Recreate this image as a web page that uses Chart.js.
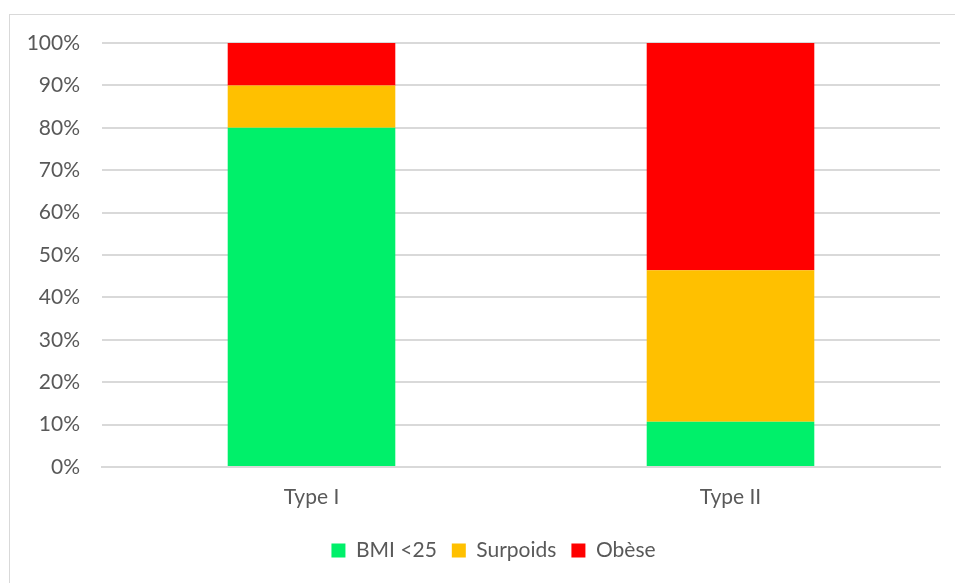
<!DOCTYPE html>
<html>
<head>
<meta charset="utf-8">
<script src="https://cdn.jsdelivr.net/npm/chart.js@4"></script>
<style>
  html, body { margin: 0; padding: 0; background: #fff; overflow: hidden; }
  #frame {
    position: absolute; left: 9px; top: 14px; width: 1000px; height: 600px;
    border: 1px solid #d9d9d9;
  }
  #wrap { position: absolute; left: 0; top: 0; width: 987px; height: 583px; }
</style>
</head>
<body>
<div id="frame"></div>
<div id="wrap"><canvas id="chart"></canvas></div>
<script>
// categories and series (percent of each type)
const categories = ['Type I', 'Type II'];
const bmiUnder25 = [80, 10.7];
const surpoids = [10, 35.7];
const obese = [10, 53.6];

const textColor = '#595959';
const gridColor = '#d9d9d9';
const fontFamily = 'Lato, "Open Sans", sans-serif';
const fontSize = 21;

// legend is centred on the whole frame, not on the plot
const legendShift = {
  id: 'legendShift',
  afterLayout(chart) {
    chart.legend.left += 23.5;
    chart.legend.right += 23.5;
  }
};

new Chart(document.getElementById('chart'), {
  type: 'bar',
  data: {
    labels: categories,
    datasets: [
      { label: 'BMI <25', data: bmiUnder25, backgroundColor: '#00f06a' },
      { label: 'Surpoids', data: surpoids, backgroundColor: '#ffc000' },
      { label: 'Obèse', data: obese, backgroundColor: '#ff0000' }
    ]
  },
  plugins: [legendShift],
  options: {
    responsive: true,
    maintainAspectRatio: false,
    animation: false,
    barPercentage: 0.4,
    categoryPercentage: 1,
    layout: { padding: { left: 0, right: 47, top: 43, bottom: 12 } },
    plugins: {
      tooltip: { enabled: false },
      legend: {
        position: 'bottom',
        labels: {
          color: textColor,
          font: { family: fontFamily, size: fontSize, lineHeight: 0.8 },
          boxWidth: 14,
          boxHeight: 14,
          padding: 15
        }
      }
    },
    scales: {
      x: {
        stacked: true,
        afterFit: (scale) => { scale.height -= 3; },
        grid: { display: false, drawTicks: false },
        border: { color: gridColor, width: 2 },
        ticks: {
          color: textColor,
          font: { family: fontFamily, size: fontSize, lineHeight: 1 },
          padding: 20
        }
      },
      y: {
        stacked: true,
        min: 0,
        max: 100,
        afterFit: (scale) => { scale.width = 102; },
        grid: { color: gridColor, lineWidth: 2, drawTicks: false },
        border: { display: false },
        ticks: {
          stepSize: 10,
          color: textColor,
          font: { family: fontFamily, size: fontSize },
          padding: 22,
          callback: (v) => v + '%'
        }
      }
    }
  }
});
</script>
</body>
</html>
